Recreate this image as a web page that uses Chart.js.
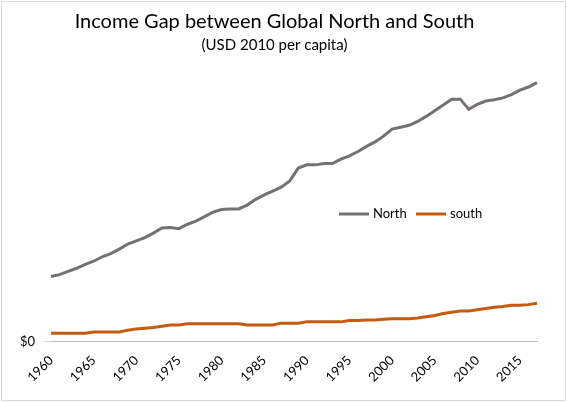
<!DOCTYPE html>
<html><head><meta charset="utf-8">
<script src="https://cdn.jsdelivr.net/npm/chart.js@4/dist/chart.umd.min.js"></script>
<style>html,body{margin:0;padding:0;background:#fff}#w{position:absolute;left:1px;top:1px;width:563px;height:398px;border:1px solid #d9d9d9}</style>
</head><body><div id="w"><canvas id="c"></canvas></div>
<script>
const years=[];for(let y=1960;y<=2017;y++)years.push(String(y));
const north=[10.2,10.5,11.0,11.5,12.1,12.6,13.3,13.8,14.5,15.3,15.8,16.3,17.0,17.8,17.9,17.7,18.4,18.9,19.6,20.3,20.7,20.8,20.8,21.4,22.3,23.0,23.6,24.2,25.2,27.2,27.7,27.7,27.9,27.9,28.6,29.1,29.8,30.6,31.3,32.2,33.3,33.6,33.9,34.5,35.3,36.2,37.1,38.0,38.0,36.4,37.2,37.7,37.9,38.2,38.7,39.4,39.9,40.6].map(v=>v*1000);
const south=[1.3,1.3,1.3,1.3,1.3,1.5,1.5,1.5,1.5,1.8,2.0,2.1,2.2,2.4,2.6,2.6,2.8,2.8,2.8,2.8,2.8,2.8,2.8,2.6,2.6,2.6,2.6,2.9,2.9,2.9,3.1,3.1,3.1,3.1,3.1,3.3,3.3,3.4,3.4,3.5,3.6,3.6,3.6,3.7,3.9,4.1,4.4,4.6,4.8,4.8,5.0,5.2,5.4,5.5,5.7,5.7,5.8,6.0].map(v=>v*1000);
const F='Lato, "Open Sans", sans-serif';
const legendPlugin={id:'lg',afterDraw(ch){const c=ch.ctx;c.save();c.lineWidth=3;c.font='13px '+F;c.textBaseline='middle';
const items=[['North','#767171',337],['south','#c55a11',414]];
items.forEach(([t,col,x])=>{c.strokeStyle=col;c.beginPath();c.moveTo(x,212);c.lineTo(x+30,212);c.stroke();c.fillStyle='#000';c.fillText(t,x+34,212);});c.restore();}};
new Chart(document.getElementById('c'),{type:'line',
data:{labels:years,datasets:[{label:'North',data:north,borderColor:'#767171',borderWidth:3,pointRadius:0,tension:0},
{label:'south',data:south,borderColor:'#c55a11',borderWidth:3,pointRadius:0,tension:0}]},
options:{responsive:true,maintainAspectRatio:false,animation:false,
layout:{padding:{left:10,right:28,top:0,bottom:12}},
plugins:{legend:{display:false},tooltip:{enabled:false},
title:{display:true,text:'Income Gap between Global North and South',font:{family:F,size:20,weight:'normal'},color:'#000',padding:{top:8,bottom:2}},
subtitle:{display:true,text:'(USD 2010 per capita)',font:{family:F,size:15},color:'#000',padding:{bottom:26}}},
scales:{x:{grid:{display:false},border:{color:'#bfbfbf'},
ticks:{autoSkip:false,maxRotation:45,minRotation:45,color:'#000',font:{family:F,size:13},callback:(v,i)=>(+years[i])%5===0?years[i]:''}},
y:{min:0,max:41000,grid:{color:'#d9d9d9'},border:{display:false},
afterBuildTicks:a=>{a.ticks=a.ticks.filter(t=>t.value%5000===0);},
ticks:{stepSize:5000,color:'#000',font:{family:F,size:13},padding:8,callback:v=>'$'+v.toLocaleString('en-US')}}}},
plugins:[legendPlugin]});
</script></body></html>
